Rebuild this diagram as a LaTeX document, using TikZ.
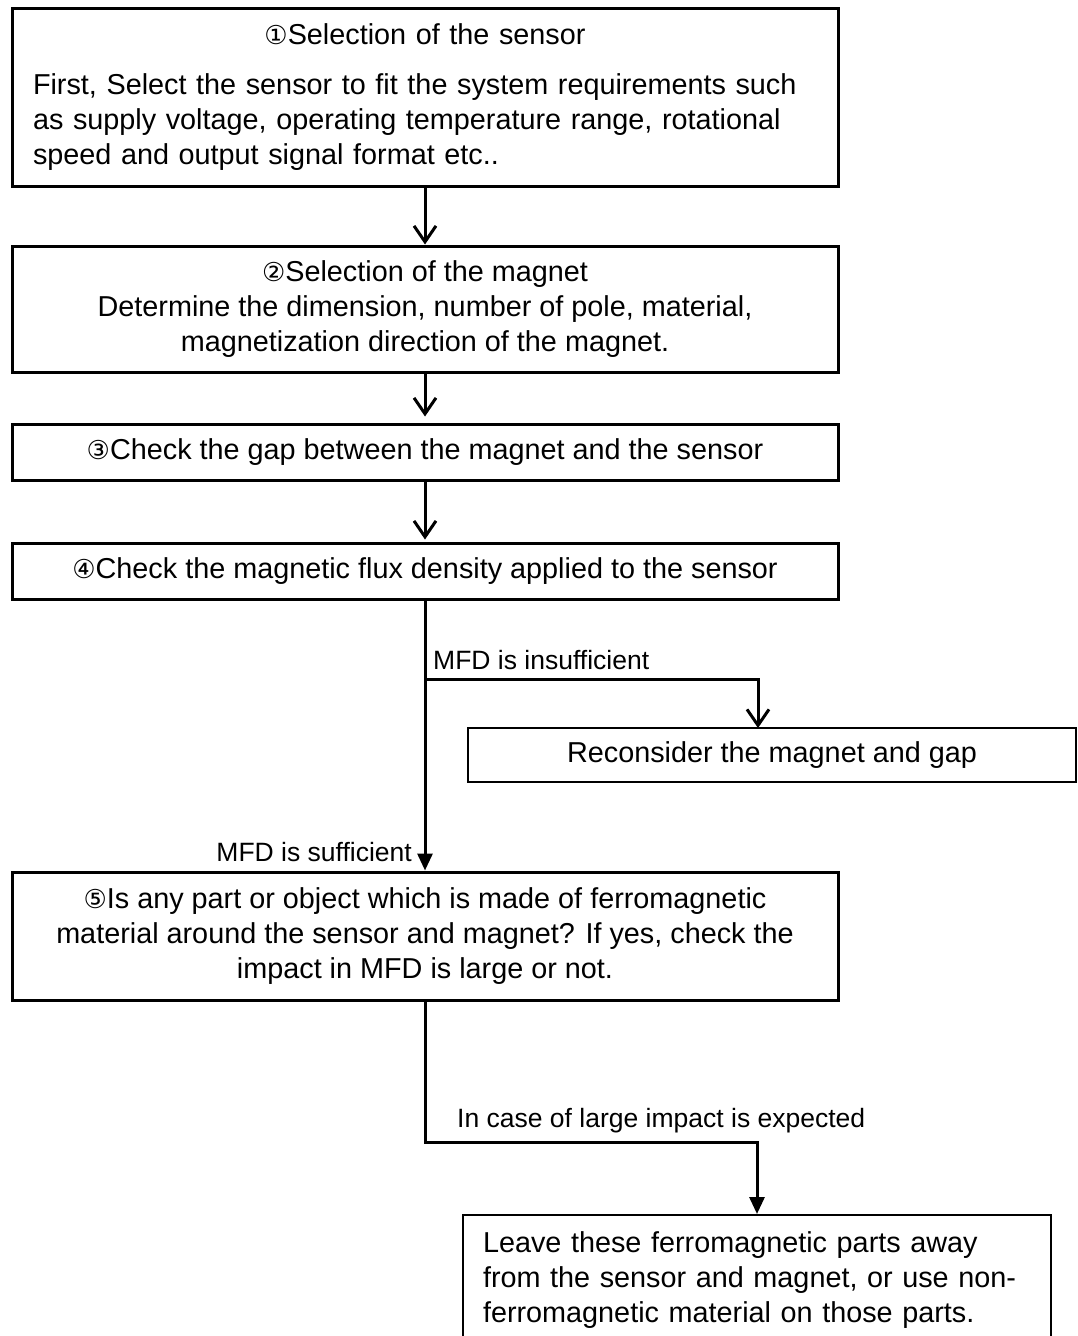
\documentclass[tikz,border=0pt]{standalone}
\usepackage{fontspec}
\setmainfont{Liberation Sans}
\newfontfamily\dvfont{DejaVu Sans}
\usetikzlibrary{arrows.meta}
\newcommand{\cnum}[1]{{\dvfont\fontsize{26}{26}\selectfont #1}}
\begin{document}
\begin{tikzpicture}[x=1pt,y=-1pt,
  box/.style={draw, line width=3pt, minimum width=826pt, inner xsep=21pt, inner ysep=0pt,
    font=\fontsize{28.8}{35}\selectfont, align=center},
  thinbox/.style={draw, line width=2pt, inner ysep=0pt, font=\fontsize{28.8}{35}\selectfont},
  lbl/.style={font=\fontsize{26.5}{30}\selectfont, inner sep=0pt},
  conn/.style={line width=3pt},
  vtip/.style={-{Straight Barb[length=16pt,width=22pt,line width=3pt]}},
  ftip/.style={-{Triangle[length=17pt,width=15pt]}}]
\clip (0,0) rectangle (1077,1336);
\fill[white] (0,0) rectangle (1077,1336);

\node[box, minimum height=178pt, text width=784pt, align=left] (b1) at (425,97)
  {\centering\cnum{①}Selection of the sensor\par\vspace{15pt}\raggedright
   First, Select the sensor to fit the system requirements such\\
   as supply voltage, operating temperature range, rotational\\
   speed and output signal format etc..};
\node[box, minimum height=126pt] (b2) at (425,309)
  {\cnum{②}Selection of the magnet\\
   Determine the dimension, number of pole, material,\\
   magnetization direction of the magnet.};
\node[box, minimum height=56pt] (b3) at (425,452)
  {\cnum{③}Check the gap between the magnet and the sensor};
\node[box, minimum height=56pt] (b4) at (425,571)
  {\cnum{④}Check the magnetic flux density applied to the sensor};
\node[thinbox, minimum width=608pt, minimum height=54pt] (rc) at (772,755)
  {Reconsider the magnet and gap};
\node[box, minimum height=128pt] (b5) at (425,936)
  {\cnum{⑤}Is any part or object which is made of ferromagnetic\\
   material around the sensor and magnet? If yes, check the\\
   impact in MFD is large or not.};
\node[thinbox, minimum width=588pt, minimum height=130pt, inner xsep=20pt,
  text width=548pt, align=left] (b6) at (757,1280)
  {Leave these ferromagnetic parts away\\
   from the sensor and magnet, or use non-\\
   ferromagnetic material on those parts.};

\coordinate (br1) at (425,679);
\coordinate (br2) at (425,1142);
\coordinate (rcin) at (758,728);

\draw[conn, vtip] (b1.south) -- (b2.north);
\draw[conn, vtip, shorten >=6pt] (b2.south) -- (b3.north);
\draw[conn, vtip, shorten >=2pt] (b3.south) -- (b4.north);
\draw[conn, ftip] (b4.south) -- (b5.north);
\draw[conn, vtip] (br1) -| (rcin);
\draw[conn, ftip] (b5.south) -- (br2) -| (b6.north);

\node[lbl, anchor=base west] (l1) at (433,669) {MFD is insufficient};
\node[lbl, anchor=base east] (l2) at (412,861) {MFD is sufficient};
\node[lbl, anchor=base west] (l3) at (457,1127) {In case of large impact is expected};
\end{tikzpicture}
\end{document}
